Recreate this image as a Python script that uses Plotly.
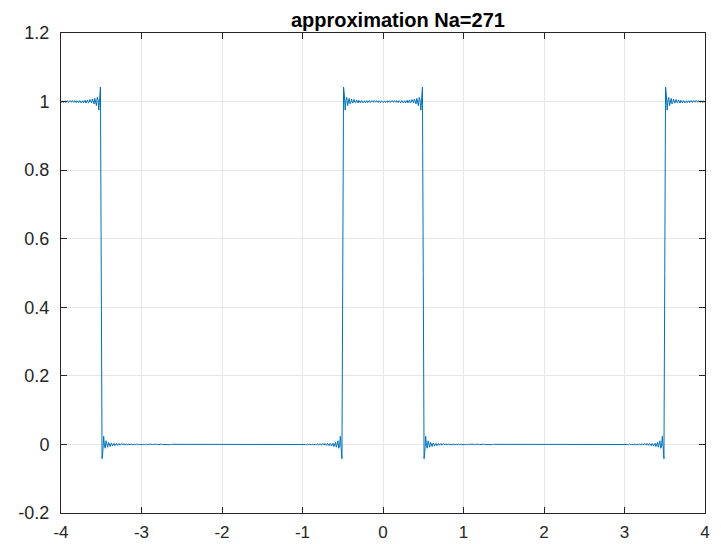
import numpy as np
import plotly.graph_objects as go

# Square pulse train being approximated (levels between breakpoints)
period = 4.0
pulse_low = -0.5
pulse_high = 0.5
pulse_level = 1.0
Na = 271
x_range = [-4, 4]
x_step = 0.01

x_ticks = [-4, -3, -2, -1, 0, 1, 2, 3, 4]
x_ticklabels = ["-4", "-3", "-2", "-1", "0", "1", "2", "3", "4"]
y_ticks = [-0.2, 0, 0.2, 0.4, 0.6, 0.8, 1.0, 1.2]
y_ticklabels = ["-0.2", "0", "0.2", "0.4", "0.6", "0.8", "1", "1.2"]

# Fourier partial sum of the pulse train with Na harmonics
n_samples = int(round((x_range[1] - x_range[0]) / x_step)) + 1
x = np.linspace(x_range[0], x_range[1], n_samples)
width = pulse_high - pulse_low
y = np.full_like(x, pulse_level * width / period)
for n in range(1, Na + 1):
    w = 2 * np.pi * n / period
    an = (2 / period) * pulse_level * (np.sin(w * pulse_high) - np.sin(w * pulse_low)) / w
    bn = (2 / period) * pulse_level * (np.cos(w * pulse_low) - np.cos(w * pulse_high)) / w
    y += an * np.cos(w * x) + bn * np.sin(w * x)

fig = go.Figure()
fig.add_trace(go.Scatter(x=x, y=y, mode="lines",
                         line=dict(color="#0072BD", width=1), showlegend=False))

axis_common = dict(showline=True, linecolor="#262626", linewidth=1, mirror="ticks",
                   ticks="inside", ticklen=6, tickcolor="#262626", automargin=False,
                   showgrid=True, gridcolor="#E6E6E6", gridwidth=1, zeroline=False)

tick_font = dict(family="Liberation Sans, Arial", size=18, color="#262626")

# page body has an 8px margin, so the figure is sized/offset to compensate
W, H = 713, 536
fig.update_layout(
    width=W, height=H,
    margin=dict(l=53, r=16, t=25, b=31),
    paper_bgcolor="white", plot_bgcolor="white",
    title=dict(text="<b>approximation Na=271</b>", x=(381 - 8) / W, xanchor="center",
               xref="paper", y=1 - 12 / H, yanchor="middle",
               font=dict(family="Liberation Sans, Arial", size=20, color="black")),
    xaxis=dict(range=x_range, tickvals=x_ticks, ticktext=x_ticklabels,
               ticklabelstandoff=4, tickfont=dict(tick_font, size=17), **axis_common),
    yaxis=dict(range=[-0.2, 1.2], tickvals=y_ticks, ticktext=y_ticklabels,
               ticklabelstandoff=7, tickfont=tick_font, **axis_common),
)

fig.write_html("out.html")
